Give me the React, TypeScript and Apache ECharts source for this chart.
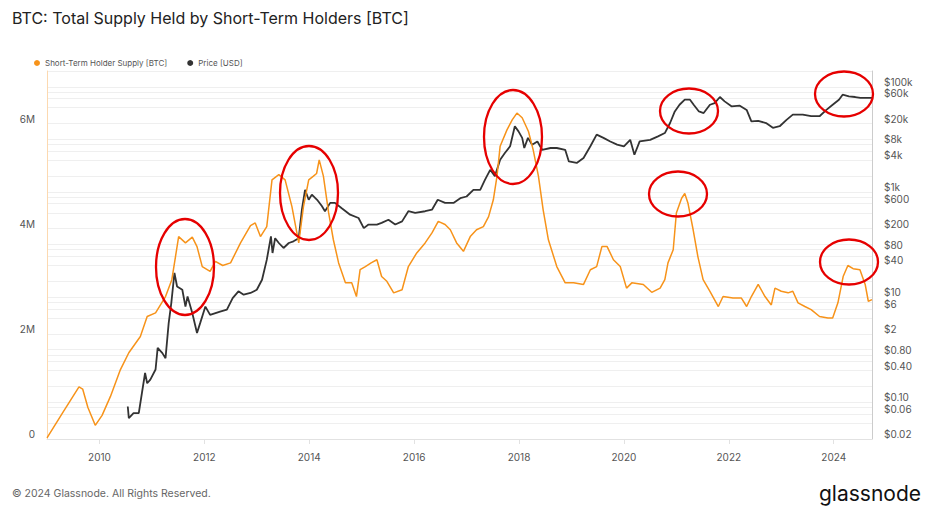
import React, { useEffect, useRef } from "react";
import * as echarts from "echarts";

// ---- Data ----
const stsYear = [
  2009.0, 2009.3, 2009.61, 2009.68, 2009.78, 2009.92, 2010.05, 2010.21, 2010.4, 2010.56, 2010.78, 2010.91,
  2011.07, 2011.26, 2011.38, 2011.45, 2011.51, 2011.64, 2011.77, 2011.86, 2011.96, 2012.11, 2012.21, 2012.35,
  2012.5, 2012.69, 2012.88, 2012.97, 2013.07, 2013.19, 2013.29, 2013.42, 2013.54, 2013.67, 2013.8, 2013.89,
  2013.99, 2014.08, 2014.14, 2014.19, 2014.27, 2014.37, 2014.46, 2014.56, 2014.69, 2014.81, 2014.9, 2014.97,
  2015.07, 2015.18, 2015.29, 2015.38, 2015.48, 2015.61, 2015.77, 2015.89, 2016.05, 2016.21, 2016.34, 2016.46,
  2016.59, 2016.69, 2016.81, 2016.94, 2017.07, 2017.19, 2017.32, 2017.42, 2017.51, 2017.58, 2017.64, 2017.77,
  2017.87, 2017.96, 2018.06, 2018.18, 2018.27, 2018.37, 2018.46, 2018.56, 2018.72, 2018.88, 2019.04, 2019.23,
  2019.36, 2019.48, 2019.58, 2019.68, 2019.8, 2019.93, 2020.05, 2020.15, 2020.37, 2020.53, 2020.69, 2020.78,
  2020.84, 2020.94, 2021.0, 2021.1, 2021.16, 2021.22, 2021.32, 2021.41, 2021.51, 2021.64, 2021.8, 2021.89,
  2022.08, 2022.24, 2022.34, 2022.43, 2022.56, 2022.69, 2022.81, 2022.88, 2023.0, 2023.13, 2023.22, 2023.32,
  2023.45, 2023.57, 2023.73, 2023.89, 2023.98, 2024.08, 2024.18, 2024.27, 2024.37, 2024.5, 2024.6, 2024.66,
  2024.73,
];
const stsSupplyM = [
  0.02, 0.5, 0.99, 0.95, 0.6, 0.26, 0.45, 0.81, 1.32, 1.64, 1.95, 2.33,
  2.4, 2.71, 3.03, 3.47, 3.85, 3.73, 3.84, 3.66, 3.28, 3.19, 3.38, 3.3,
  3.35, 3.73, 4.06, 4.11, 3.85, 4.04, 4.93, 5.03, 4.93, 4.42, 3.73, 4.42,
  4.93, 5.0, 5.05, 5.31, 5.0, 4.3, 3.79, 3.35, 2.97, 2.97, 2.71, 3.22,
  3.28, 3.35, 3.41, 3.09, 3.0, 2.78, 2.84, 3.28, 3.54, 3.73, 3.92, 4.14,
  4.08, 3.98, 3.73, 3.57, 3.85, 3.98, 4.04, 4.23, 4.55, 5.0, 5.57, 5.88,
  6.07, 6.2, 6.11, 5.85, 5.5, 5.0, 4.36, 3.79, 3.28, 2.97, 2.97, 2.94,
  3.22, 3.28, 3.66, 3.66, 3.41, 3.28, 2.87, 2.97, 2.94, 2.79, 2.87, 3.03,
  3.35, 3.6, 4.3, 4.58, 4.67, 4.49, 3.98, 3.47, 3.03, 2.81, 2.52, 2.71,
  2.68, 2.68, 2.52, 2.71, 2.94, 2.71, 2.55, 2.87, 2.81, 2.78, 2.81, 2.59,
  2.52, 2.46, 2.33, 2.3, 2.3, 2.59, 3.09, 3.3, 3.24, 3.22, 2.94, 2.62,
  2.65,
];

const priceYear = [
  2010.54, 2010.56, 2010.65, 2010.75, 2010.81, 2010.87, 2010.91, 2010.97, 2011.07, 2011.11, 2011.2, 2011.26,
  2011.32, 2011.37, 2011.43, 2011.48, 2011.58, 2011.64, 2011.68, 2011.77, 2011.86, 2011.92, 2012.02, 2012.11,
  2012.3, 2012.43, 2012.54, 2012.65, 2012.75, 2012.88, 2013.0, 2013.1, 2013.19, 2013.27, 2013.3, 2013.35,
  2013.42, 2013.51, 2013.61, 2013.7, 2013.8, 2013.86, 2013.92, 2013.99, 2014.05, 2014.15, 2014.24, 2014.3,
  2014.4, 2014.49, 2014.62, 2014.78, 2014.94, 2015.04, 2015.13, 2015.29, 2015.38, 2015.51, 2015.64, 2015.77,
  2015.89, 2016.02, 2016.21, 2016.34, 2016.45, 2016.59, 2016.75, 2016.88, 2017.0, 2017.13, 2017.26, 2017.35,
  2017.45, 2017.54, 2017.64, 2017.73, 2017.83, 2017.92, 2017.99, 2018.06, 2018.1, 2018.17, 2018.25, 2018.35,
  2018.44, 2018.6, 2018.72, 2018.88, 2018.95, 2019.1, 2019.23, 2019.36, 2019.48, 2019.61, 2019.74, 2019.87,
  2020.0, 2020.12, 2020.2, 2020.3, 2020.5, 2020.65, 2020.78, 2020.88, 2020.97, 2021.06, 2021.16, 2021.26,
  2021.33, 2021.43, 2021.52, 2021.64, 2021.73, 2021.83, 2021.92, 2022.05, 2022.21, 2022.34, 2022.43, 2022.56,
  2022.71, 2022.84, 2022.97, 2023.1, 2023.22, 2023.41, 2023.57, 2023.73, 2023.86, 2023.98, 2024.1, 2024.17,
  2024.29, 2024.41, 2024.51, 2024.6, 2024.73,
];
const priceUsd = [
  0.083, 0.05, 0.062, 0.062, 0.15, 0.36, 0.23, 0.27, 0.42, 1.08, 0.86, 0.69,
  3.2, 7.7, 28.8, 15.9, 13.8, 6.6, 10.3, 5.0, 2.08, 3.2, 6.6, 4.6,
  5.3, 5.8, 9.6, 12.9, 11.1, 12.0, 13.8, 21.4, 51, 143, 69, 132,
  107, 86, 107, 115, 132, 460, 1100, 710, 890, 710, 540, 430,
  620, 620, 490, 370, 320, 205, 240, 240, 258, 296, 240, 276,
  430, 400, 430, 460, 710, 620, 620, 760, 820, 1100, 1100, 1700,
  2640, 2000, 4100, 5500, 7400, 17800, 14200, 10700, 6860, 10700, 7900, 9140,
  6350, 6860, 6860, 6350, 3800, 3560, 4430, 7400, 12300, 10700, 9140, 7960,
  7400, 9800, 5100, 9140, 9800, 11400, 13200, 20500, 34000, 45600, 56900, 56900,
  45600, 34000, 31700, 45600, 49000, 64000, 52900, 42600, 43800, 36400, 22000, 22500,
  20500, 16600, 17800, 23500, 29600, 29600, 27600, 27600, 36400, 45600, 56900, 70900,
  66000, 64000, 61400, 61400, 61400,
];

const yearTicks = [2010, 2012, 2014, 2016, 2018, 2020, 2022, 2024];
const supplyTicks = [0, 2e6, 4e6, 6e6];
const priceLabelTicks = [
  0.02, 0.06, 0.1, 0.4, 0.8, 2, 6, 10, 40, 80, 200, 600, 1000, 4000, 8000, 20000, 60000, 100000,
];
const priceGridTicks = [
  0.02, 0.04, 0.06, 0.08, 0.1, 0.2, 0.4, 0.6, 0.8, 1, 2, 4, 6, 8, 10, 20, 40, 60, 80, 100, 200, 400, 600, 800,
  1000, 2000, 4000, 6000, 8000, 10000, 20000, 40000, 60000, 80000, 100000, 200000,
];

// annotation circles (pixel centre / radii)
const annotations = [
  { cx: 185, cy: 267, rx: 29, ry: 48 },
  { cx: 309, cy: 193, rx: 29, ry: 47 },
  { cx: 513, cy: 137, rx: 29, ry: 47 },
  { cx: 689, cy: 111, rx: 29, ry: 22.5 },
  { cx: 678, cy: 194, rx: 29, ry: 22.5 },
  { cx: 844, cy: 94, rx: 29, ry: 22.5 },
  { cx: 849, cy: 262, rx: 29, ry: 22.5 },
];

const FONT = "Inter, 'Noto Sans', sans-serif";

function fmtPrice(v: number): string {
  if (v >= 1000) return "$" + Math.round(v / 1000) + "k";
  if (v >= 1) return "$" + Math.round(v);
  return "$" + v.toFixed(2);
}

export default function App() {
  const ref = useRef<HTMLDivElement>(null);
  useEffect(() => {
    if (!ref.current) return;
    const chart = echarts.init(ref.current, undefined, { renderer: "svg" });
    const sts = stsYear.map((y, i) => [y, stsSupplyM[i] * 1e6]);
    const price = priceYear.map((y, i) => [y, priceUsd[i]]);
    chart.setOption({
      animation: false,
      backgroundColor: "#ffffff",
      textStyle: { fontFamily: FONT },
      title: {
        text: "BTC: Total Supply Held by Short-Term Holders [BTC]",
        left: 7,
        top: 5,
        textStyle: { fontSize: 16, fontWeight: "normal", color: "#222", fontFamily: FONT },
      },
      legend: {
        left: 29,
        top: 54,
        icon: "circle",
        itemWidth: 6,
        itemHeight: 6,
        itemGap: 20,
        textStyle: { fontSize: 8, color: "#555", fontFamily: FONT },
        data: ["Short-Term Holder Supply [BTC]", "Price [USD]"],
      },
      grid: { left: 47, right: 59, top: 71, bottom: 76, containLabel: false },
      xAxis: {
        type: "value",
        min: 2009.0,
        max: 2024.73,
        axisLine: { show: true, lineStyle: { color: "#e2e2e2" } },
        axisTick: { show: true, length: 5, lineStyle: { color: "#e2e2e2" }, customValues: yearTicks },
        axisLabel: {
          customValues: yearTicks,
          formatter: (v: number) => String(Math.round(v)),
          color: "#555",
          fontSize: 10,
          margin: 13,
          fontFamily: FONT,
        },
        splitLine: { show: false },
      },
      yAxis: [
        {
          type: "value",
          position: "left",
          min: 0,
          max: 7e6,
          axisLine: { show: true, lineStyle: { color: "#fcd9b0" } },
          axisTick: { show: false },
          splitLine: { show: false },
          axisLabel: {
            customValues: supplyTicks,
            formatter: (v: number) => (v === 0 ? "0" : v / 1e6 + "M"),
            color: "#555",
            fontSize: 10,
            margin: 12,
            verticalAlign: "bottom",
            fontFamily: FONT,
          },
        },
        {
          type: "log",
          logBase: 10,
          position: "right",
          min: 0.02,
          max: 200000,
          axisLine: { show: true, lineStyle: { color: "#cccccc" } },
          axisTick: { show: false, customValues: priceGridTicks },
          splitLine: { show: true, lineStyle: { color: "#efefef", width: 1 } },
          axisLabel: {
            customValues: priceLabelTicks,
            formatter: (v: number) => fmtPrice(v),
            color: "#555",
            fontSize: 10,
            margin: 12,
            verticalAlign: "bottom",
            fontFamily: FONT,
          },
        },
      ],
      series: [
        {
          name: "Price [USD]",
          type: "line",
          yAxisIndex: 1,
          data: price,
          showSymbol: false,
          symbol: "none",
          lineStyle: { color: "#333333", width: 1.8 },
          itemStyle: { color: "#333333" },
          z: 2,
        },
        {
          name: "Short-Term Holder Supply [BTC]",
          type: "line",
          yAxisIndex: 0,
          data: sts,
          showSymbol: false,
          symbol: "none",
          lineStyle: { color: "#f7931a", width: 1.5 },
          itemStyle: { color: "#f7931a" },
          z: 3,
        },
      ],
      graphic: [
        ...annotations.map((a) => ({
          type: "ellipse",
          shape: { cx: a.cx, cy: a.cy, rx: a.rx, ry: a.ry },
          style: { fill: "none", stroke: "#e60000", lineWidth: 2.3 },
          z: 100,
        })),
        {
          type: "text",
          left: 12,
          top: 488,
          style: {
            text: "© 2024 Glassnode. All Rights Reserved.",
            fill: "#666",
            fontSize: 10.5,
            fontFamily: FONT,
          },
        },
        {
          type: "text",
          right: 10,
          top: 483,
          style: {
            text: "glassnode",
            fill: "#111",
            fontSize: 21,
            fontFamily: FONT,
          },
        },
      ],
    });
    return () => chart.dispose();
  }, []);
  return (
    <div
      ref={ref}
      style={{ position: "absolute", left: 0, top: 0, width: 931, height: 515, background: "#fff" }}
    />
  );
}
